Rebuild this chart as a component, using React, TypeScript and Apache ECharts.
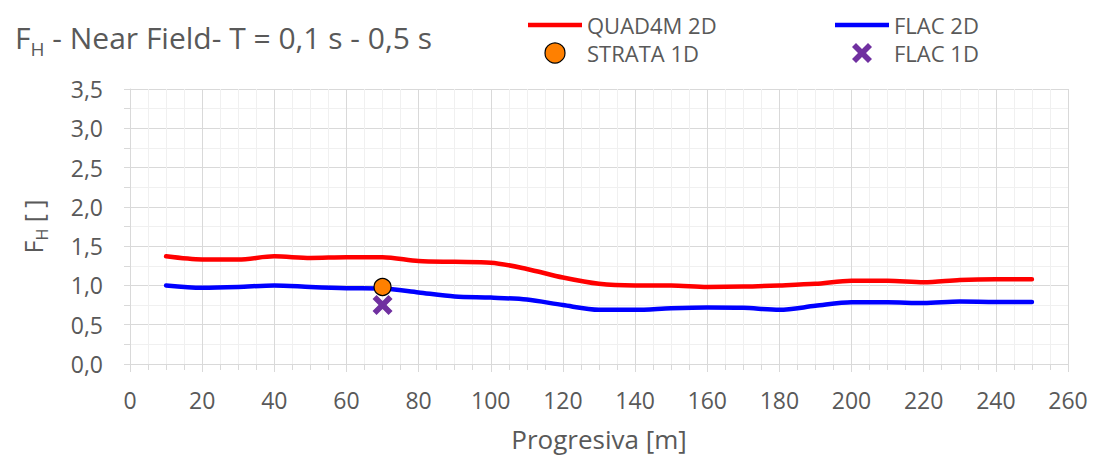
import React, { useEffect, useRef } from "react";
import * as echarts from "echarts";

const progresiva = [10, 20, 30, 40, 50, 60, 70, 80, 90, 100, 110, 120, 130, 140, 150, 160, 170, 180, 190, 200, 210, 220, 230, 240, 250];
const quad4m2D = [1.37, 1.33, 1.33, 1.37, 1.35, 1.36, 1.36, 1.31, 1.30, 1.29, 1.21, 1.10, 1.02, 1.00, 1.00, 0.98, 0.985, 1.00, 1.02, 1.06, 1.06, 1.04, 1.07, 1.08, 1.08];
const flac2D = [1.00, 0.97, 0.98, 1.00, 0.98, 0.965, 0.96, 0.91, 0.86, 0.845, 0.82, 0.75, 0.69, 0.69, 0.71, 0.72, 0.715, 0.69, 0.74, 0.785, 0.785, 0.775, 0.795, 0.79, 0.79];
const strata1D = [[70, 0.98]];
const flac1D = [[70, 0.75]];

const FONT = "'Open Sans', sans-serif";
const GREY = "#595959";
const CROSS = "path://M4,0 L10,6 L16,0 L20,4 L14,10 L20,16 L16,20 L10,14 L4,20 L0,16 L6,10 L0,4 Z";
const LINE_ICON = "path://M0,0 L54,0 L54,4.5 L0,4.5 Z";

export default function App() {
  const ref = useRef<HTMLDivElement>(null);
  useEffect(() => {
    const chart = echarts.init(ref.current!, undefined, { renderer: "svg" });
    const fmt = (v: number) => v.toFixed(1).replace(".", ",");
    const legendText = { fontFamily: FONT, fontSize: 22, color: GREY };
    chart.setOption({
      animation: false,
      backgroundColor: "#ffffff",
      textStyle: { fontFamily: FONT },
      title: {
        text: "{a|F}{s|H}{a| - Near Field- T = 0,1 s - 0,5 s}",
        left: 10,
        top: 12,
        textStyle: {
          fontWeight: "normal",
          rich: {
            a: { fontFamily: FONT, fontSize: 30, fontWeight: "normal", color: GREY },
            s: { fontFamily: FONT, fontSize: 19, fontWeight: "normal", color: GREY, padding: [22, 0, 0, 0] },
          },
        },
      },
      legend: [
        {
          orient: "vertical",
          left: 523,
          top: 9,
          itemWidth: 54,
          itemHeight: 20,
          itemGap: 6,
          data: [{ name: "QUAD4M 2D", icon: LINE_ICON }, { name: "STRATA 1D", itemStyle: { borderWidth: 1.2 } }],
          textStyle: legendText,
        },
        {
          orient: "vertical",
          left: 830,
          top: 9,
          itemWidth: 54,
          itemHeight: 20,
          itemGap: 6,
          data: [{ name: "FLAC 2D", icon: LINE_ICON }, { name: "FLAC 1D" }],
          textStyle: legendText,
        },
      ],
      grid: { left: 130, right: 33, top: 89, bottom: 100, containLabel: false },
      xAxis: {
        type: "value",
        min: 0,
        max: 260,
        interval: 20,
        name: "Progresiva [m]",
        nameLocation: "middle",
        nameGap: 62,
        nameTextStyle: { fontFamily: FONT, fontSize: 26, color: GREY },
        axisLine: { show: true, lineStyle: { color: "#d9d9d9", width: 1 } },
        axisTick: { show: true, length: 8, lineStyle: { color: "#d9d9d9" } },
        minorTick: { show: true, splitNumber: 4, length: 6, lineStyle: { color: "#d9d9d9" } },
        axisLabel: { fontFamily: FONT, fontSize: 23, color: GREY, margin: 24 },
        splitLine: { show: true, lineStyle: { color: "#d9d9d9", width: 1 } },
        minorSplitLine: { show: true, lineStyle: { color: "#f0f0f0", width: 1 } },
      },
      yAxis: {
        type: "value",
        min: 0,
        max: 3.5,
        interval: 0.5,
        name: "{a|F}{s|H}{a| [ ]}",
        nameLocation: "middle",
        nameGap: 80,
        nameRotate: 90,
        nameTextStyle: {
          rich: {
            a: { fontFamily: FONT, fontSize: 25, color: GREY },
            s: { fontFamily: FONT, fontSize: 16, color: GREY, padding: [18, 0, 0, 0] },
          },
        },
        axisLine: { show: true, lineStyle: { color: "#d9d9d9", width: 1 } },
        axisTick: { show: true, length: 6, lineStyle: { color: "#d9d9d9" } },
        minorTick: { show: true, splitNumber: 2, length: 6, lineStyle: { color: "#d9d9d9" } },
        axisLabel: { fontFamily: FONT, fontSize: 23, color: GREY, margin: 27, formatter: fmt },
        splitLine: { show: true, lineStyle: { color: "#d9d9d9", width: 1 } },
        minorSplitLine: { show: true, lineStyle: { color: "#f0f0f0", width: 1 } },
      },
      series: [
        {
          name: "QUAD4M 2D",
          type: "line",
          data: progresiva.map((x, i) => [x, quad4m2D[i]]),
          smooth: 0.3,
          symbol: "none",
          lineStyle: { color: "#ff0000", width: 4.5, cap: "round" },
          itemStyle: { color: "#ff0000" },
          z: 2,
        },
        {
          name: "FLAC 2D",
          type: "line",
          data: progresiva.map((x, i) => [x, flac2D[i]]),
          smooth: 0.3,
          symbol: "none",
          lineStyle: { color: "#0000ff", width: 4.5, cap: "round" },
          itemStyle: { color: "#0000ff" },
          z: 2,
        },
        {
          name: "STRATA 1D",
          type: "scatter",
          data: strata1D,
          symbol: "circle",
          symbolSize: 17,
          itemStyle: { color: "#ff8000", borderColor: "#000000", borderWidth: 1.2, opacity: 1 },
          z: 4,
        },
        {
          name: "FLAC 1D",
          type: "scatter",
          data: flac1D,
          symbol: CROSS,
          symbolSize: 20,
          itemStyle: { color: "#7030a0", opacity: 1 },
          z: 3,
        },
      ],
    });
    return () => chart.dispose();
  }, []);
  return <div ref={ref} style={{ width: 1101, height: 464, position: "absolute", left: 0, top: 0 }} />;
}
